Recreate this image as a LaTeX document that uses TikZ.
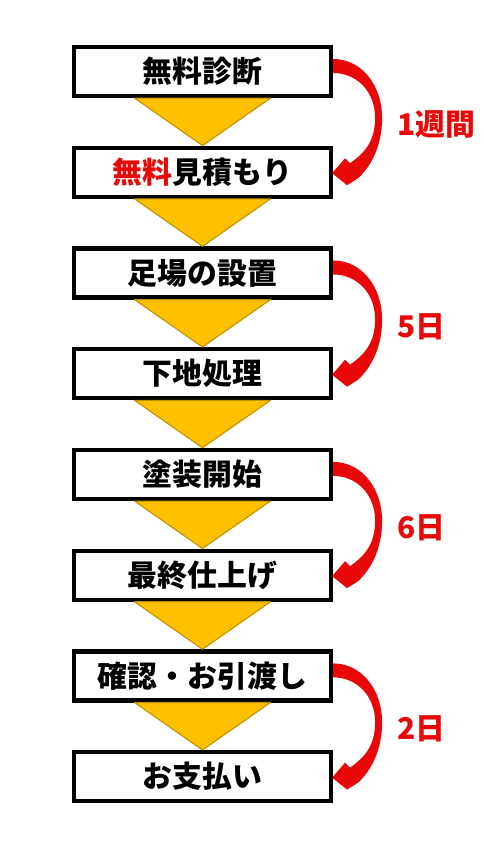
\documentclass[tikz,border=0pt]{standalone}
\usepackage{fontspec}
\setmainfont{Noto Sans CJK JP}
\usepackage{tikz}
\usetikzlibrary{positioning}
\usetikzlibrary{calc}

\definecolor{flowyellow}{RGB}{255,192,0}
\definecolor{flowgold}{RGB}{191,144,0}
\definecolor{flowred}{RGB}{232,8,8}

\begin{document}
\begin{tikzpicture}[x=0.02cm, y=-0.02cm, node distance={0.95cm},
    stepbox/.style = {draw=black, fill=white, line width=0.085cm, minimum width=5.14cm, minimum height=0.98cm, inner sep=0pt, font=\fontsize{17}{20}\selectfont\bfseries},
    steplabel/.style = {text=flowred, anchor=west, inner sep=0pt, font=\fontsize{17}{20}\selectfont\bfseries},
    flowtri/.style = {fill=flowyellow, draw=flowgold, line width=0.6pt, line join=round},
    bendarrow/.style = {fill=flowred, draw=none, to path={
        ($(\tikztostart)+(0,-12.5)$)
        .. controls ($(\tikztostart)+(29,-12.5)$) and ($(\tikztostart)!.5!(\tikztotarget)+(49,-36)$) .. ($(\tikztostart)!.5!(\tikztotarget)+(49,-4)$)
        .. controls ($(\tikztostart)!.5!(\tikztotarget)+(49,24)$) and ($(\tikztotarget)+(38,-6)$) .. ($(\tikztotarget)+(25,6)$)
        -- ($(\tikztotarget)+(14,13)$) -- ($(\tikztotarget)+(-1,1)$) -- ($(\tikztotarget)+(12,-14)$)
        -- ($(\tikztotarget)+(17,-9)$)
        .. controls ($(\tikztotarget)+(31,-19)$) and ($(\tikztostart)!.5!(\tikztotarget)+(42,20)$) .. ($(\tikztostart)!.5!(\tikztotarget)+(42,-4)$)
        .. controls ($(\tikztostart)!.5!(\tikztotarget)+(42,-30)$) and ($(\tikztostart)+(24,1.5)$) .. ($(\tikztostart)+(0,1.5)$)
        -- cycle}}]
    \useasboundingbox (0,0) rectangle (483,847);

    % steps
    \node[stepbox] (s1) at (202.5,71.5) {無料診断};
    \node[stepbox] (s2) [below=of s1] {{\color{flowred}無料}見積もり};
    \node[stepbox] (s3) [below=of s2] {足場の設置};
    \node[stepbox] (s4) [below=of s3] {下地処理};
    \node[stepbox] (s5) [below=of s4] {塗装開始};
    \node[stepbox] (s6) [below=of s5] {最終仕上げ};
    \node[stepbox] (s7) [below=of s6] {確認・お引渡し};
    \node[stepbox] (s8) [below=of s7] {お支払い};

    % yellow triangles
    \filldraw[flowtri] ($(s1.south)+(-68,0)$) -- ($(s1.south)+(68,0)$) -- (s2.north) -- cycle;
    \filldraw[flowtri] ($(s2.south)+(-68,0)$) -- ($(s2.south)+(68,0)$) -- (s3.north) -- cycle;
    \filldraw[flowtri] ($(s3.south)+(-68,0)$) -- ($(s3.south)+(68,0)$) -- (s4.north) -- cycle;
    \filldraw[flowtri] ($(s4.south)+(-68,0)$) -- ($(s4.south)+(68,0)$) -- (s5.north) -- cycle;
    \filldraw[flowtri] ($(s5.south)+(-68,0)$) -- ($(s5.south)+(68,0)$) -- (s6.north) -- cycle;
    \filldraw[flowtri] ($(s6.south)+(-68,0)$) -- ($(s6.south)+(68,0)$) -- (s7.north) -- cycle;
    \filldraw[flowtri] ($(s7.south)+(-68,0)$) -- ($(s7.south)+(68,0)$) -- (s8.north) -- cycle;

    % red arrows and durations
    \fill[bendarrow] (s1.east) to (s2.east);
    \fill[bendarrow] (s3.east) to (s4.east);
    \fill[bendarrow] (s5.east) to (s6.east);
    \fill[bendarrow] (s7.east) to (s8.east);
    \node[steplabel] (d1) at ($(s1.east)!.5!(s2.east)+(64,3)$) {1週間};
    \node[steplabel] (d2) at ($(s3.east)!.5!(s4.east)+(64,3)$) {5日};
    \node[steplabel] (d3) at ($(s5.east)!.5!(s6.east)+(64,3)$) {6日};
    \node[steplabel] (d4) at ($(s7.east)!.5!(s8.east)+(64,3)$) {2日};
\end{tikzpicture}
\end{document}
